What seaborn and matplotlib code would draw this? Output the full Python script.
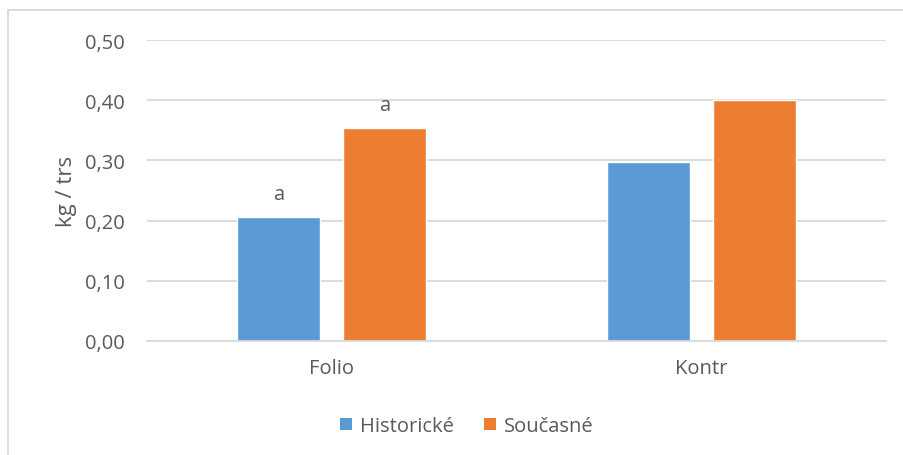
import matplotlib
matplotlib.use("Agg")
import matplotlib.pyplot as plt
import seaborn as sns
import pandas as pd
from matplotlib.patches import Rectangle, Patch

categories = ["Folio", "Kontr"]
series_names = ["Historické", "Současné"]
historicke = [0.206, 0.297]
soucasne = [0.354, 0.401]
letters_hist = ["a", ""]
letters_souc = ["a", ""]
yticks = [0.0, 0.1, 0.2, 0.3, 0.4, 0.5]
ytick_labels = ["0,00", "0,10", "0,20", "0,30", "0,40", "0,50"]

colors = ["#5B9BD5", "#ED7D31"]
text_color = "#595959"
grid_color = "#D9D9D9"

df = pd.DataFrame({
    "cat": categories * 2,
    "series": [series_names[0]] * 2 + [series_names[1]] * 2,
    "val": historicke + soucasne,
})

sns.set_style("white")
plt.rcParams["font.family"] = ["Open Sans", "DejaVu Sans"]

fs = 14.5
fig = plt.figure(figsize=(9.04, 4.56), dpi=100)
W, H = 904, 456
ax = fig.add_axes([147 / W, 1 - 342 / H, (886 - 147) / W, (342 - 41) / H])

sns.barplot(data=df, x="cat", y="val", hue="series", order=categories,
            hue_order=series_names, palette=colors, width=0.574, gap=0.217,
            saturation=1, ax=ax, legend=False, errorbar=None)

ax.set_ylim(0, 0.5)
ax.set_xlim(-0.5, 1.5)
ax.set_yticks(yticks)
ax.set_yticklabels(ytick_labels)
ax.yaxis.grid(True, color=grid_color, linewidth=1.3)
ax.set_axisbelow(True)
for s in ["top", "right", "left"]:
    ax.spines[s].set_visible(False)
ax.spines["bottom"].set_color(grid_color)
ax.spines["bottom"].set_linewidth(1.3)
ax.tick_params(axis="y", length=0, pad=16, labelsize=fs, labelcolor=text_color)
ax.tick_params(axis="x", length=0, pad=12, labelsize=fs, labelcolor=text_color)
ax.set_xlabel("")
ax.set_ylabel("kg / trs", fontsize=16, color=text_color, labelpad=6)

# letters above bars
containers = ax.containers
for cont, letters in zip(containers, [letters_hist, letters_souc]):
    for bar, lab in zip(cont, letters):
        if lab:
            ax.text(bar.get_x() + bar.get_width() / 2, bar.get_height() + 0.022, lab,
                    ha="center", va="bottom", fontsize=fs, color=text_color)

handles = [Patch(facecolor=c, edgecolor="none") for c in colors]
fig.legend(handles, series_names, loc="center", bbox_to_anchor=(467 / W, 1 - 427 / H),
           ncol=2, frameon=False, fontsize=fs, labelcolor=text_color,
           handlelength=0.6, handleheight=0.6, handletextpad=0.4, columnspacing=1.5)

# chart border (left and top visible)
fig.patches.append(Rectangle((8 / W, -0.1), 1.1, 1 - 11 / H + 0.1, transform=fig.transFigure,
                             fill=False, edgecolor="#D9D9D9", linewidth=1.3))

fig.savefig("out.png", dpi=100)
